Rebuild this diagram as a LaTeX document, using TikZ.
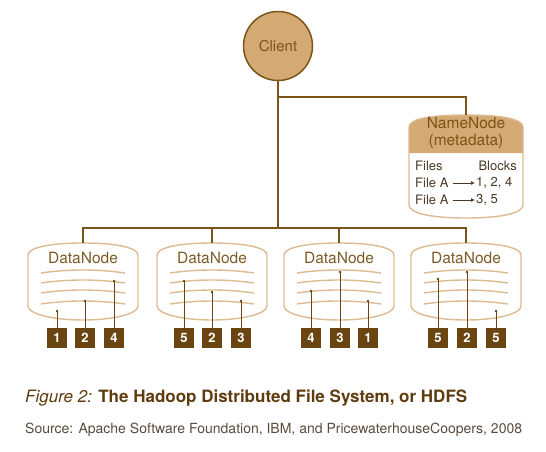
\documentclass[tikz,border=0pt]{standalone}
\usepackage{fontspec}
\setmainfont{TeX Gyre Heros}
\usetikzlibrary{arrows.meta, positioning}

\definecolor{tan}{HTML}{D4A974}
\definecolor{brn}{HTML}{7B5418}
\definecolor{ltan}{HTML}{DDBB92}
\definecolor{blk}{HTML}{6A4512}
\definecolor{capc}{HTML}{5E3C10}
\definecolor{srcc}{HTML}{5A4A3C}
\definecolor{tabc}{HTML}{4A3A28}

\tikzset{
  wire/.style={draw=brn, line width=2pt},
  block/.style={fill=blk, minimum width=20pt, minimum height=20pt, inner sep=0pt,
    text=white, font=\fontsize{13}{14}\selectfont\bfseries},
  blkline/.style={draw=blk, line width=0.9pt},
  dnlabel/.style={text=brn!85!gray, font=\fontsize{15.5}{17}\selectfont},
  stripe/.style={draw=ltan, line width=1.4pt},
  tab/.style={text=tabc, inner sep=1pt, font=\fontsize{13}{14}\selectfont},
}

\begin{document}
\begin{tikzpicture}[x=1pt, y=-1pt]
    \useasboundingbox (0,0) rectangle (546,452);
    % Client
    \node[circle, draw=brn, fill=tan, line width=1.5pt, minimum size=69pt,
      text=brn, font=\fontsize{15}{17}\selectfont] (client) at (278,46) {Client};

    % NameNode
    \fill[tan] (409,153) -- (409,127) .. controls (409,119) and (430,115) .. (466,115)
      .. controls (502,115) and (523,119) .. (523,127) -- (523,153) -- cycle;
    \draw[ltan, line width=1.4pt] (409,205) -- (409,127) .. controls (409,119) and (430,115) .. (466,115)
      .. controls (502,115) and (523,119) .. (523,127) -- (523,205)
      .. controls (523,213) and (502,218) .. (466,218) .. controls (430,218) and (409,213) .. (409,205) -- cycle;
    \coordinate (nn) at (466,115);
    \node[dnlabel, text=brn, align=center, font=\fontsize{15.5}{16.5}\selectfont] (nnl) at (466,133) {NameNode\\(metadata)};
    \node[tab, anchor=west] (files) at (414,166) {Files};
    \node[tab, anchor=east] (blocks) at (518,166) {Blocks};
    \node[tab, anchor=west] (fa1) at (414,183) {File A};
    \node[tab, anchor=west] (bl1) at (475,183) {1, 2, 4};
    \node[tab, anchor=west] (fa2) at (414,200) {File A};
    \node[tab, anchor=west] (bl2) at (475,200) {3, 5};
    \draw[tabc, line width=0.8pt, -{Latex[length=4pt,width=4pt]}, shorten <=3pt] (fa1) -- (bl1);
    \draw[tabc, line width=0.8pt, -{Latex[length=4pt,width=4pt]}, shorten <=3pt] (fa2) -- (bl2);

    % DataNodes
    \foreach \cx [count=\i] in {83,212,339,466} {
        \draw[ltan, fill=white, line width=1.4pt] ({\cx-55},306) -- ({\cx-55},255)
          .. controls ({\cx-55},247) and ({\cx-30},243) .. (\cx,243)
          .. controls ({\cx+30},243) and ({\cx+55},247) .. ({\cx+55},255) -- ({\cx+55},306)
          .. controls ({\cx+55},314) and ({\cx+30},320) .. (\cx,320)
          .. controls ({\cx-30},320) and ({\cx-55},314) .. ({\cx-55},306) -- cycle;
        \coordinate (dn\i) at (\cx,243);
        \node[dnlabel] (dnl\i) at (\cx,258) {DataNode};
        \foreach \sy in {273,283,293,304} {
            \draw[stripe] ({\cx-42},\sy) .. controls ({\cx-14},{\sy-4}) and ({\cx+14},{\sy-4}) .. ({\cx+42},\sy);
        }
    }

    % blocks
    \foreach \bx/\bl/\dy [count=\k] in {57/1/311, 85/2/301, 114/4/281, 184/5/281, 212/2/292, 241/3/301,
                                        311/4/291, 340/3/272, 368/1/301, 438/5/279, 467/2/272, 496/5/311} {
        \node[block] (b\k) at (\bx,338) {\bl};
        \coordinate (d\k) at (\bx,\dy);
        \draw[blkline] (b\k) -- (d\k);
        \fill[blk] (d\k) circle (1.3pt);
    }

    % connectors
    \coordinate (j0) at (278,97);
    \coordinate (j1) at (278,228);
    \draw[wire] (client) -- (j0) -| (nn);
    \draw[wire] (j0) -- (j1);
    \draw[wire] (dn1) |- (j1) -| (dn4);
    \draw[wire] (dn2) -- (dn2 |- j1);
    \draw[wire] (dn3) -- (dn3 |- j1);

    % caption
    \node[anchor=west, inner sep=0pt, text=capc, font=\fontsize{17}{19}\selectfont] (cap) at (25,398)
      {\textit{Figure 2:} \textbf{The Hadoop Distributed File System, or HDFS}};
    \node[anchor=west, inner sep=0pt, text=srcc, font=\fontsize{14}{16}\selectfont] (src) at (25,430)
      {Source: Apache Software Foundation, IBM, and PricewaterhouseCoopers, 2008};
\end{tikzpicture}
\end{document}
